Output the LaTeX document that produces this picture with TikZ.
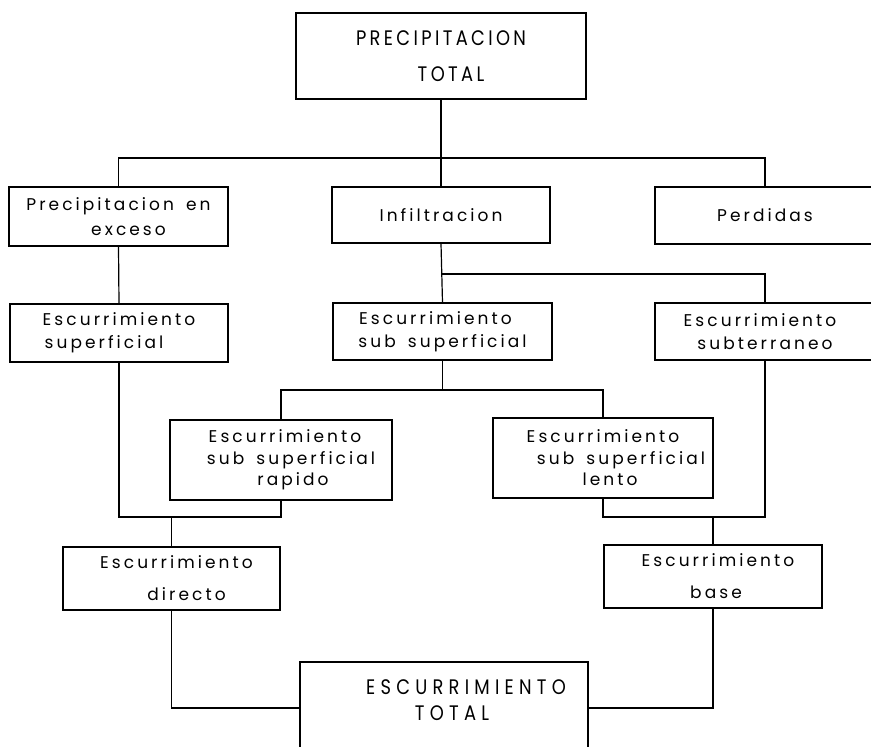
\documentclass[tikz,border=0pt]{standalone}
\usepackage{fontspec}
\setmainfont{Poppins}[LetterSpace=18, WordSpace=1.6]
\newfontfamily\capsA{Poppins}[FakeStretch=0.85, LetterSpace=16]
\newfontfamily\capsB{Poppins}[FakeStretch=0.85, LetterSpace=25]
\begin{document}
\begin{tikzpicture}[x=1pt,y=-1pt, line width=1.2pt,
  box/.style={draw, rectangle, inner sep=0pt, align=center},
  lblA/.style={font=\fontsize{17}{25}\selectfont},
  lblB/.style={font=\fontsize{17}{23}\selectfont},
  lblC/.style={font=\fontsize{17}{21.5}\selectfont},
  lblD/.style={font=\fontsize{17}{32}\selectfont}]
\useasboundingbox (0,0) rectangle (871,747);
\fill[white] (0,0) rectangle (871,747);
\clip (0,0) rectangle (871,747);

\node[box, minimum width=290, minimum height=86, font=\capsA\fontsize{21}{36}\selectfont] (pt) at (441,56) {PRECIPITACION\\\hspace*{20pt}TOTAL};
\node[box, lblA, minimum width=219, minimum height=59] (pe) at (118.5,216.5) {Precipitacion en\\\hspace*{20pt}exceso};
\node[box, lblA, minimum width=218, minimum height=56] (inf) at (441,215) {Infiltracion};
\node[box, lblA, minimum width=220, minimum height=57] (per) at (765,215.5) {Perdidas};
\node[box, lblB, minimum width=218, minimum height=58] (es) at (119,333) {Escurrimiento\\superficial\hspace*{30pt}};
\node[box, lblB, minimum width=219, minimum height=57] (ess) at (442.5,331.5) {Escurrimiento\hspace*{14pt}\\sub superficial};
\node[box, lblB, minimum width=220, minimum height=57] (est) at (765,331.5) {Escurrimiento\hspace*{10pt}\\subterraneo};
\node[box, lblC, minimum width=222, minimum height=80] (rap) at (281,460) {\hspace*{8pt}Escurrimiento\\\hspace*{20pt}sub superficial\\\hspace*{24pt}rapido};
\node[box, lblC, minimum width=220, minimum height=80] (len) at (603,458) {Escurrimiento\\\hspace*{36pt}sub superficial\\\hspace*{14pt}lento};
\node[box, lblD, minimum width=217, minimum height=63] (dir) at (171.5,578.5) {\hspace*{10pt}Escurrimiento\\\hspace*{30pt}directo};
\node[box, lblD, minimum width=218, minimum height=63] (bas) at (713,576.5) {\hspace*{10pt}Escurrimiento\\\hspace*{6pt}base};
\node[box, minimum width=288, minimum height=100] (tot) at (444,712) {};
\node[align=center, inner sep=0pt, font=\capsB\fontsize{21}{26}\selectfont] (totlbl) at (466,700) {ESCURRIMIENTO\\TOTAL\hspace*{28pt}};

\coordinate (j1) at (0,158);
\coordinate (j2) at (0,274);
\coordinate (j3) at (0,390);
\coordinate (j4) at (0,517);
\coordinate (j5) at (0,708);

\draw (pt.south) -- (inf.north);
\draw (pe.north) -- (pe.north |- j1) -- (per.north |- j1) -- (per.north);
\draw (pe.south) -- (es.north);
\draw (inf.south) -- (ess.north);
\draw (inf.south |- j2) -- (est.north |- j2) -- (est.north);
\draw (ess.south) -- (ess.south |- j3);
\draw (rap.north) -- (rap.north |- j3) -| (len.north);
\draw (es.south) -- (es.south |- j4) -| (rap.south);
\draw (dir.north) -- (dir.north |- j4);
\draw (len.south) -- (len.south |- j4) -| (est.south);
\draw (bas.north) -- (bas.north |- j4);
\draw (dir.south) |- (tot.west |- j5);
\draw (bas.south) |- (tot.east |- j5);
\end{tikzpicture}
\end{document}
